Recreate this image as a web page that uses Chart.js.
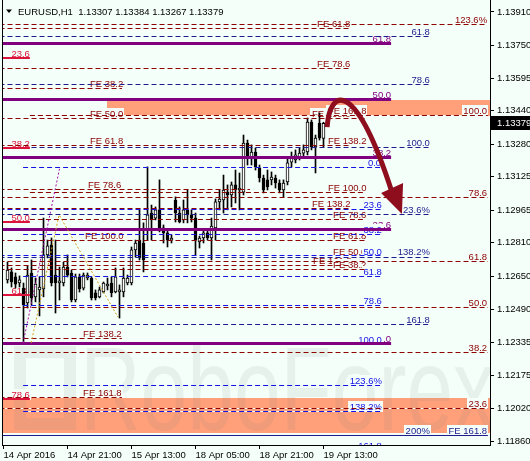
<!DOCTYPE html>
<html>
<head>
<meta charset="utf-8">
<script src="https://cdn.jsdelivr.net/npm/chart.js@4.4.1/dist/chart.umd.min.js"></script>
<style>
html,body{margin:0;padding:0;background:#F5FFFA;overflow:hidden}
#box{position:relative;width:530px;height:461px}
</style>
</head>
<body>
<div id="box"><canvas id="chart" width="530" height="461"></canvas></div>
<script>
// ---------------- data ----------------
const chartTitle = 'EURUSD,H1  1.13307 1.13384 1.13267 1.13379';
const lastPrice = 1.13379;
const watermarkText = 'RoboForex';

const barIndex = [1,2,3,4,5,6,7,8,9,10,11,12,13,14,15,16,17,18,19,20,21,22,23,24,25,26,27,28,29,30,
  31,32,33,34,35,36,37,38,39,40,41,42,43,44,45,46,47,48,49,50,51,52,53,54,55,56,57,58,59,60,
  61,62,63,64,65,66,67,68,69,70,71,72,73,74,75,76,77,78,79,80];

const openP = [
1.12632,1.12670,1.12646,1.12617,1.12593,1.12522,1.12665,1.12551,1.12584,1.12589,
1.12751,1.12799,1.12655,1.12617,1.12617,1.12693,1.12665,1.12536,1.12646,1.12593,
1.12641,1.12641,1.12570,1.12551,1.12574,1.12603,1.12617,1.12574,1.12574,1.12574,
1.12617,1.12617,1.12775,1.12822,1.12808,1.12870,1.12951,1.12927,1.12966,1.12880,
1.12856,1.12822,1.13013,1.12951,1.12918,1.12966,1.12942,1.12927,1.12813,1.12832,
1.12856,1.12832,1.12880,1.13004,1.13013,1.13051,1.13037,1.13085,1.13061,1.13051,
1.13285,1.13218,1.13242,1.13166,1.13118,1.13109,1.13109,1.13118,1.13094,1.13061,
1.13099,1.13194,1.13204,1.13218,1.13237,1.13242,1.13385,1.13266,1.13380,1.13307];
const highP = [
1.12717,1.12689,1.12665,1.12651,1.12617,1.12698,1.12727,1.12641,1.12646,1.12927,
1.12822,1.12832,1.12822,1.12693,1.12717,1.12751,1.12679,1.12660,1.12660,1.12665,
1.12665,1.12646,1.12584,1.12598,1.12622,1.12641,1.12646,1.12689,1.12608,1.12689,
1.12655,1.12789,1.12822,1.12966,1.12904,1.13171,1.12989,1.12980,1.13109,1.12894,
1.12870,1.12846,1.13028,1.12980,1.13013,1.13061,1.12966,1.12951,1.12841,1.12870,
1.12870,1.12927,1.13018,1.13061,1.13132,1.13085,1.13099,1.13156,1.13142,1.13323,
1.13299,1.13276,1.13261,1.13180,1.13132,1.13156,1.13147,1.13132,1.13109,1.13109,
1.13214,1.13242,1.13252,1.13261,1.13276,1.13404,1.13395,1.13323,1.13428,1.13384];
const lowP = [
1.12617,1.12598,1.12593,1.12598,1.12331,1.12498,1.12512,1.12527,1.12460,1.12551,
1.12737,1.12603,1.12474,1.12536,1.12603,1.12646,1.12527,1.12527,1.12574,1.12584,
1.12632,1.12536,1.12536,1.12546,1.12570,1.12584,1.12551,1.12570,1.12450,1.12551,
1.12608,1.12608,1.12741,1.12727,1.12670,1.12822,1.12822,1.12918,1.12861,1.12808,
1.12789,1.12808,1.12908,1.12904,1.12904,1.12904,1.12908,1.12751,1.12784,1.12808,
1.12822,1.12727,1.12822,1.12966,1.12951,1.12966,1.12980,1.12999,1.12966,1.13037,
1.13180,1.13180,1.13156,1.13099,1.13047,1.13061,1.13085,1.13070,1.13047,1.13028,
1.13085,1.13171,1.13190,1.13204,1.13218,1.13228,1.13252,1.13142,1.13299,1.13267];
const closeP = [
1.12679,1.12622,1.12612,1.12632,1.12512,1.12655,1.12546,1.12612,1.12598,1.12751,
1.12794,1.12617,1.12617,1.12627,1.12693,1.12655,1.12536,1.12646,1.12589,1.12655,
1.12655,1.12546,1.12546,1.12584,1.12617,1.12612,1.12570,1.12646,1.12584,1.12641,
1.12641,1.12775,1.12808,1.12737,1.12727,1.12942,1.12918,1.12966,1.12880,1.12856,
1.12822,1.12832,1.12951,1.12908,1.12966,1.12942,1.12927,1.12822,1.12832,1.12856,
1.12832,1.12889,1.13004,1.13018,1.13061,1.13037,1.13085,1.13061,1.13070,1.13285,
1.13218,1.13242,1.13171,1.13118,1.13061,1.13075,1.13123,1.13094,1.13061,1.13094,
1.13190,1.13218,1.13228,1.13237,1.13252,1.13385,1.13266,1.13309,1.13309,1.13379];

const yTicks = [1.11860,1.12020,1.12175,1.12335,1.12490,1.12650,1.12810,1.12965,1.13125,1.13280,1.13440,1.13595,1.13750,1.13910];
const xTickPos = [0,16,32,48,64,80];
const xTickLabels = ['14 Apr 2016','14 Apr 21:00','15 Apr 13:00','18 Apr 05:00','18 Apr 21:00','19 Apr 13:00'];

// level lines: [price, fromBar, toBar]
const darkRedLevels = [
 [1.13853,-1,120.9],[1.13834,-1,86.6],[1.13643,-1,86.6],[1.13547,-1,29.6],
 [1.13419,6.6,121.1],[1.13404,-1,90.4],[1.13275,-1,86.6],[1.13066,-1,61.6],
 [1.13051,6.6,90.4],[1.13027,-1,121.1],[1.12975,-1,86.6],[1.12922,6.6,90.4],
 [1.12822,-1,90.4],[1.12722,-1,121.1],[1.12703,-1,86.6],[1.12684,-1,90.4],
 [1.12503,-1,121.1],[1.12355,-1,29.6],[1.12288,-1,121.1],[1.12073,-1,29.6],[1.12021,-1,121.1]];
const blueLevels = [
 [1.13171,4.9,94.6],[1.12970,-1,94.6],[1.12851,4.9,94.6],[1.12751,-1,94.6],
 [1.12651,4.9,94.6],[1.12512,4.9,94.6],[1.12326,4.9,94.6],[1.12130,4.9,94.6],
 [1.12006,4.9,94.6],[1.11820,4.9,94.6]];
const navyLevels = [
 [1.13795,-1,106.6],[1.13566,-1,106.6],[1.13266,-1,106.6],[1.12946,-1,106.6],
 [1.12741,-1,106.6],[1.12421,4.9,106.6]];
const navySolidLevels = [[1.11892,-1,121.1]];
const purpleLevels = [[1.13762,-1,96.9],[1.13493,-1,96.9],[1.13218,-1,96.9],[1.12875,-1,96.9],[1.12331,-1,96.9]];
const crimsonLevels = [[1.13691,-1,6.6],[1.13261,-1,6.6],[1.12908,-1,6.6],[1.12560,-1,6.6],[1.12064,-1,6.6]];
// zones: [fromBar, toBar, topPrice, bottomPrice]
const orangeZones = [[25.9,130,1.13490,1.13414],[-1,130,1.12068,1.11901]];
// dotted trend lines: points [bar, price]
const purpleDiag = [[4.9,1.12331],[14.1,1.13171]];
const goldDiag = [[6.9,1.12331],[13.9,1.12942],[28.6,1.12455]];
// arrow (bar, price)
const arrowPath = [[80.9,1.13361],[81.6,1.13547],[87.9,1.13595],[97.1,1.13051]];
const arrowHead = [[99.6,1.12946],[94.4,1.13047],[99.9,1.13094]];

// labels: [text, bar, price, align]
const crimsonLabels = [['23.6',6.6,1.13691,'right'],['38.2',6.6,1.13261,'right'],['50.0',6.6,1.12908,'right'],['61.8',6.6,1.12560,'right'],['78.6',6.6,1.12064,'right']];
const purpleLabels = [['61.8',96.9,1.13762,'right'],['50.0',96.9,1.13493,'right'],['38.2',96.9,1.13218,'right'],['23.6',96.9,1.12875,'right'],['0.0',96.9,1.12331,'right']];
const darkRedLabels = [
 ['123.6%',120.9,1.13853,'right'],['FE 61.8',78.4,1.13834,'left'],['FE 78.6',78.4,1.13643,'left'],
 ['FE 38.2',21.6,1.13547,'left'],['FE 50.0',21.6,1.13404,'left'],['100.0',120.9,1.13419,'right'],
 ['FE 100.0',77.1,1.13404,'left'],['FE 161.8',81.1,1.13419,'left'],['FE 61.8',21.6,1.13275,'left'],
 ['FE 138.2',81.1,1.13275,'left'],['FE 78.6',21.1,1.13066,'left'],['FE 100.0',81.1,1.13051,'left'],
 ['78.6',120.9,1.13027,'right'],['FE 138.2',77.1,1.12975,'left'],['FE 78.6',82.4,1.12922,'left'],
 ['FE 100.0',20.4,1.12822,'left'],['FE 61.8',82.4,1.12822,'left'],['FE 50.0',82.4,1.12746,'left'],
 ['61.8',120.9,1.12722,'right'],['FE 161.8',77.4,1.12703,'left'],['FE 38.2',82.4,1.12684,'left'],
 ['50.0',120.9,1.12503,'right'],['FE 138.2',19.9,1.12355,'left'],['38.2',120.9,1.12288,'right'],
 ['FE 161.8',19.9,1.12073,'left'],['23.6',120.9,1.12021,'right']];
const navyLabels = [
 ['61.8',106.6,1.13795,'right'],['78.6',106.6,1.13566,'right'],['100.0',106.6,1.13266,'right'],
 ['23.6%',106.6,1.12946,'right'],['138.2%',106.6,1.12746,'right'],['161.8',106.6,1.12421,'right'],
 ['200%',106.6,1.11892,'right'],['FE 161.8',120.9,1.11892,'right']];
const blueLabels = [
 ['0.0',94.4,1.13171,'right'],['23.6',94.6,1.12970,'right'],['38.2',94.6,1.12851,'right'],
 ['50.0',94.6,1.12746,'right'],['61.8',94.6,1.12651,'right'],['78.6',94.6,1.12512,'right'],
 ['100.0',94.6,1.12326,'right'],['123.6%',94.6,1.12130,'right'],['138.2%',94.6,1.12006,'right'],
 ['161.8',94.6,1.11820,'right']];

// ---------------- styles ----------------
const BG = '#F5FFFA';
const FONT = '9.5px "Liberation Sans", Arial, sans-serif';
const C_DARKRED = '#8B0000', C_BLUE = '#1414E6', C_NAVY = '#1C1C8C', C_PURPLE = '#800080',
      C_CRIMSON = '#DC143C', C_ORANGE = '#FFA07A', C_GOLD = '#D4A017', C_ARROW = '#8E0E1E';

const fibPlugin = {
  id: 'fib',
  beforeDraw(chart) {
    const ctx = chart.ctx;
    ctx.save(); ctx.fillStyle = BG; ctx.fillRect(0, 0, chart.width, chart.height); ctx.restore();
  },
  beforeDatasetsDraw(chart) {
    const {ctx, chartArea: a, scales: {x, y}} = chart;
    const X = v => x.getPixelForValue(v), Y = v => y.getPixelForValue(v);
    ctx.save();
    ctx.beginPath(); ctx.rect(a.left, a.top, a.right - a.left, a.bottom - a.top); ctx.clip();
    // zones
    ctx.fillStyle = C_ORANGE;
    for (const [b0, b1, p0, p1] of orangeZones) {
      const y0 = Math.round(Y(p0)), y1 = Math.round(Y(p1));
      ctx.fillRect(Math.round(X(b0)), y0, Math.round(X(b1)) - Math.round(X(b0)), y1 - y0);
    }
    // watermark
    ctx.fillStyle = 'rgba(105,120,120,0.10)';
    ctx.font = '118px "Liberation Sans", Arial, sans-serif';
    const ww = ctx.measureText(watermarkText).width;
    ctx.save(); ctx.translate(80, 430); ctx.scale(415 / ww, 1); ctx.fillText(watermarkText, 0, 0); ctx.restore();
    ctx.strokeStyle = 'rgba(105,120,120,0.10)'; ctx.lineWidth = 12;
    ctx.strokeRect(20, 352, 50, 72);
    // labels
    ctx.font = FONT; ctx.textBaseline = 'alphabetic';
    const groups = [[crimsonLabels, C_CRIMSON], [purpleLabels, C_PURPLE], [darkRedLabels, C_DARKRED], [navyLabels, C_NAVY], [blueLabels, C_BLUE]];
    for (const [list, col] of groups) {
      for (const [t, b, p, al] of list) {
        const w = ctx.measureText(t).width;
        const base = Math.round(Y(p)) - 1;
        const px = al === 'left' ? X(b) : X(b) - w;
        ctx.fillStyle = BG; ctx.fillRect(Math.floor(px) - 1, base - 9, Math.ceil(w) + 2, 11);
        ctx.fillStyle = col; ctx.fillText(t, px, base);
      }
    }
    ctx.restore();
  },
  afterDatasetsDraw(chart) {
    const {ctx, chartArea: a, scales: {x, y}} = chart;
    const X = v => x.getPixelForValue(v), Y = v => y.getPixelForValue(v);
    ctx.save();
    ctx.beginPath(); ctx.rect(a.left, a.top, a.right - a.left, a.bottom - a.top); ctx.clip();
    const hline = (p, b0, b1, color, width, dash) => {
      const yy = Math.round(Y(p)) + (width % 2 ? 0.5 : 0);
      const x0 = X(b0), x1 = X(b1);
      if (dash) {
        for (const [z0, z1, q0, q1] of orangeZones) {
          ctx.save();
          ctx.beginPath(); ctx.rect(X(z0), Y(q0), X(z1) - X(z0), Y(q1) - Y(q0)); ctx.clip();
          ctx.beginPath(); ctx.setLineDash([]); ctx.strokeStyle = BG; ctx.lineWidth = width;
          ctx.moveTo(x0, yy); ctx.lineTo(x1, yy); ctx.stroke();
          ctx.restore();
        }
      }
      ctx.beginPath(); ctx.setLineDash(dash || []); ctx.strokeStyle = color; ctx.lineWidth = width;
      ctx.moveTo(x0, yy); ctx.lineTo(x1, yy); ctx.stroke();
    };
    for (const [p, b0, b1] of darkRedLevels) hline(p, b0, b1, C_DARKRED, 1, [5, 3]);
    for (const [p, b0, b1] of navyLevels) hline(p, b0, b1, C_NAVY, 1, [5, 3]);
    for (const [p, b0, b1] of blueLevels) hline(p, b0, b1, C_BLUE, 1, [5, 3]);
    for (const [p, b0, b1] of navySolidLevels) hline(p, b0, b1, C_NAVY, 1, null);
    for (const [p, b0, b1] of purpleLevels) hline(p, b0, b1, C_PURPLE, 3, null);
    for (const [p, b0, b1] of crimsonLevels) hline(p, b0, b1, C_CRIMSON, 2, null);
    const poly = (pts, color) => {
      ctx.beginPath(); ctx.setLineDash([2, 2]); ctx.strokeStyle = color; ctx.lineWidth = 1;
      pts.forEach(([b, p], k) => k ? ctx.lineTo(X(b), Y(p)) : ctx.moveTo(X(b), Y(p)));
      ctx.stroke();
    };
    poly(purpleDiag, '#A010A0');
    poly(goldDiag, C_GOLD);
    ctx.setLineDash([]);
    const P = arrowPath.map(([b, p]) => [X(b), Y(p)]);
    ctx.beginPath(); ctx.strokeStyle = C_ARROW; ctx.lineWidth = 5; ctx.lineCap = 'butt';
    ctx.moveTo(P[0][0], P[0][1]); ctx.bezierCurveTo(P[1][0], P[1][1], P[2][0], P[2][1], P[3][0], P[3][1]);
    ctx.stroke();
    const H = arrowHead.map(([b, p]) => [X(b), Y(p)]);
    ctx.beginPath(); ctx.fillStyle = C_ARROW;
    ctx.moveTo(H[0][0], H[0][1]); ctx.lineTo(H[1][0], H[1][1]); ctx.lineTo(H[2][0], H[2][1]); ctx.closePath(); ctx.fill();
    ctx.restore();

    ctx.save();
    ctx.strokeStyle = '#000'; ctx.lineWidth = 1;
    ctx.beginPath(); ctx.moveTo(a.left - 0.5, 0); ctx.lineTo(a.left - 0.5, a.bottom + 1); ctx.stroke();
    const py = Y(lastPrice);
    ctx.fillStyle = '#000'; ctx.fillRect(a.right + 1, Math.round(py) - 7, chart.width - a.right - 1, 14);
    ctx.fillStyle = '#FFF'; ctx.font = FONT; ctx.textBaseline = 'middle';
    ctx.fillText(lastPrice.toFixed(5), a.right + 7, Math.round(py) + 0.5);
    ctx.fillStyle = '#000';
    ctx.beginPath(); ctx.moveTo(6, 9.5); ctx.lineTo(12, 9.5); ctx.lineTo(9, 13); ctx.closePath(); ctx.fill();
    ctx.textBaseline = 'alphabetic'; ctx.fillText(chartTitle, 18, 15);
    ctx.restore();
  }
};

const bodyColors = openP.map((o, k) => closeP[k] >= o ? '#FFFFFF' : '#000000');

new Chart(document.getElementById('chart'), {
  type: 'bar',
  data: {
    datasets: [
      { label: 'body', data: barIndex.map((b, k) => ({x: b, y: [openP[k], closeP[k]]})),
        backgroundColor: bodyColors, borderColor: '#000', borderWidth: 1, borderSkipped: false,
        grouped: false, categoryPercentage: 1, barPercentage: 1, maxBarThickness: 3, minBarLength: 1, order: 0 },
      { label: 'wick', data: barIndex.map((b, k) => ({x: b, y: [lowP[k], highP[k]]})),
        backgroundColor: '#000', borderWidth: 0,
        grouped: false, categoryPercentage: 1, barPercentage: 1, maxBarThickness: 1, order: 1 }
    ]
  },
  options: {
    responsive: false, animation: false, devicePixelRatio: 1,
    layout: {padding: {left: 3, top: 0, right: 0, bottom: 0}},
    plugins: {legend: {display: false}, tooltip: {enabled: false}},
    scales: {
      x: {
        type: 'linear', min: -0.125, max: 121.625, offset: false, position: 'bottom',
        grid: {display: true, drawOnChartArea: false, drawTicks: true, tickLength: 4, color: '#000', offset: false},
        border: {display: true, color: '#000', width: 1},
        ticks: {align: 'start', autoSkip: false, maxRotation: 0, minRotation: 0, padding: 1, color: '#000',
          font: {family: '"Liberation Sans", Arial, sans-serif', size: 9.5},
          callback: v => { const k = xTickPos.indexOf(v); return k >= 0 ? xTickLabels[k] : ''; }},
        afterBuildTicks: s => { s.ticks = xTickPos.map(v => ({value: v})); },
        afterFit: s => { s.height = 16; s.paddingLeft = 0; s.paddingRight = 0; }
      },
      y: {
        type: 'linear', position: 'right', min: 1.118443, max: 1.139672,
        grid: {display: true, drawOnChartArea: false, drawTicks: true, tickLength: 4, color: '#000'},
        border: {display: true, color: '#000', width: 1},
        ticks: {padding: 3, autoSkip: false, color: '#000',
          font: {family: '"Liberation Sans", Arial, sans-serif', size: 9.5},
          callback: v => Number(v).toFixed(5)},
        afterBuildTicks: s => { s.ticks = yTicks.map(v => ({value: v})); },
        afterFit: s => { s.width = 40; s.paddingTop = 0; s.paddingBottom = 0; }
      }
    }
  },
  plugins: [fibPlugin]
});
</script>
</body>
</html>
